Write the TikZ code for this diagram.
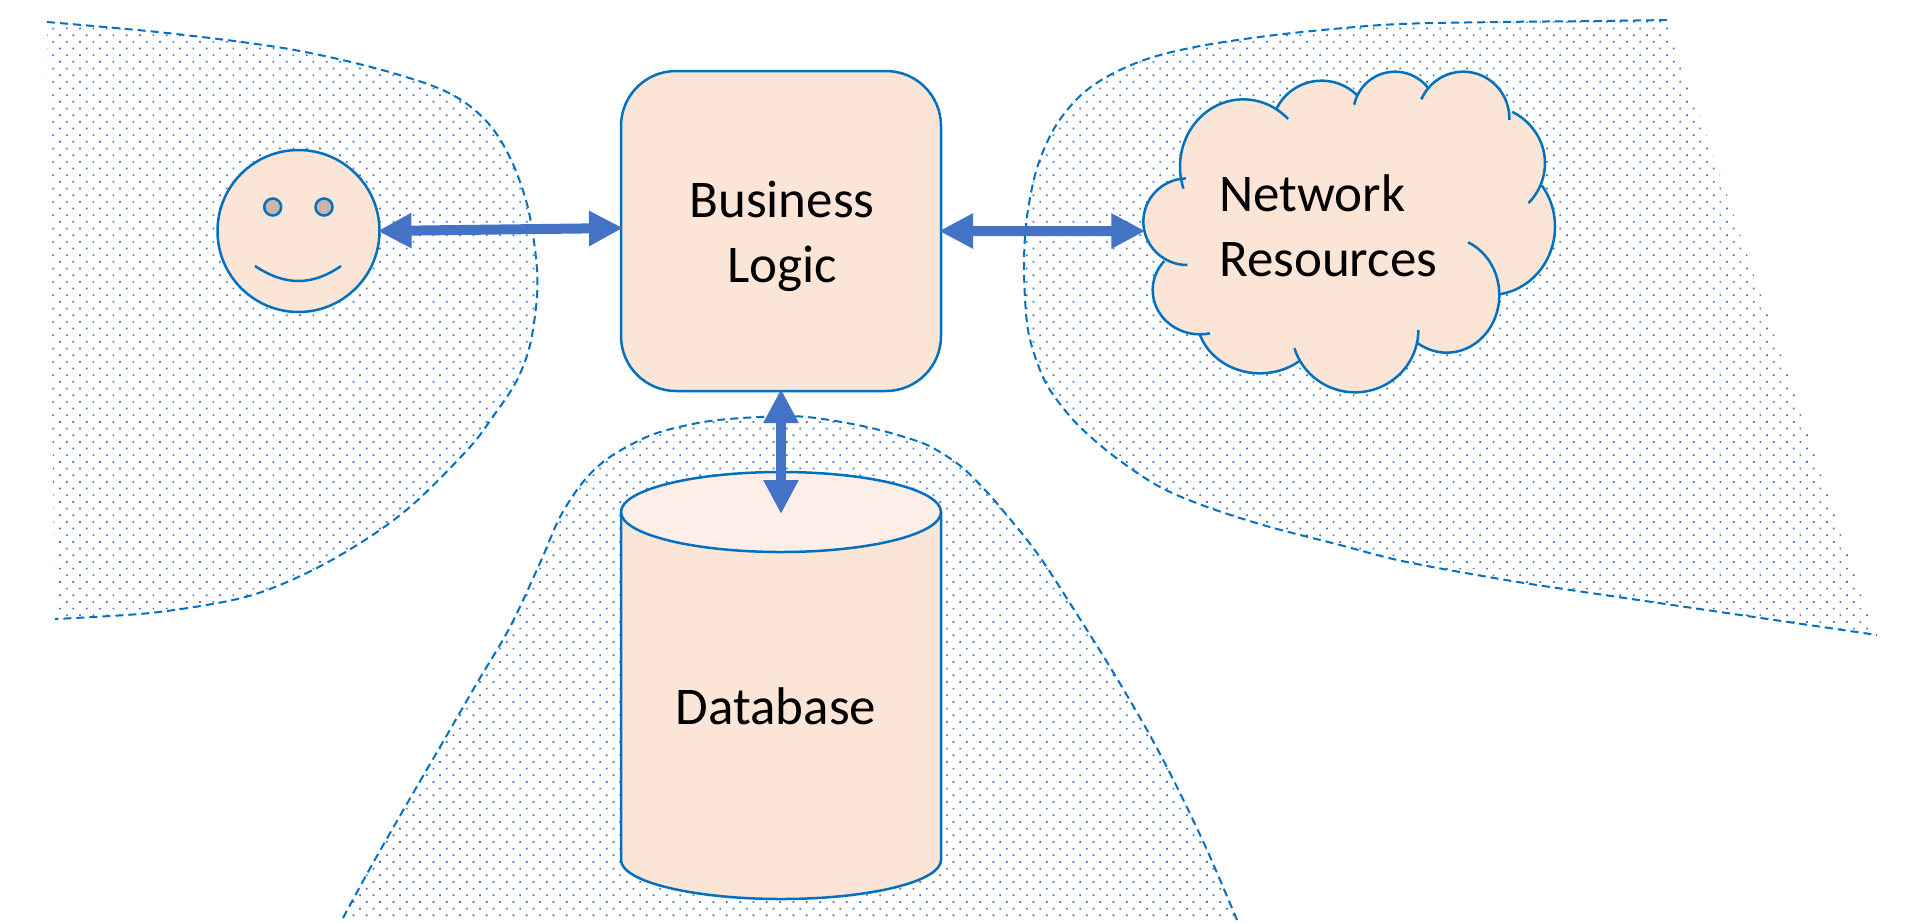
\documentclass[tikz,border=0pt]{standalone}
\usepackage{fontspec}
\setmainfont{Carlito}
\usetikzlibrary{arrows.meta,patterns.meta}
\definecolor{edgeblue}{HTML}{0070C0}
\definecolor{arrowblue}{HTML}{4472C4}
\definecolor{bodyfill}{HTML}{FBE5D6}
\definecolor{lidfill}{HTML}{FDEFE7}
\definecolor{eyefill}{HTML}{C9B5A8}
\tikzset{
    body/.style={draw=edgeblue, line width=2.5pt, fill=bodyfill, outer sep=0pt},
    zonefill/.style={pattern={Dots[distance=9.43pt, angle=45, radius=1.2pt]}, pattern color=arrowblue},
    zoneedge/.style={draw=edgeblue, line width=2pt, dash pattern=on 8pt off 5pt},
    link/.style={draw=arrowblue, line width=10pt, shorten <=-2pt, shorten >=-2pt, {Triangle[length=34pt,width=33pt]}-{Triangle[length=34pt,width=33pt]}},
    lobe/.style={draw=edgeblue, line width=2.5pt},
    label/.style={font=\fontsize{53}{65}\selectfont, text=black}
}
\newcommand{\leftzone}{plot[smooth, tension=0.55] coordinates {(47,22) (167,33) (283,48) (367,66) (433,86) (467,104) (493,129) (513,164) (528,208) (536,258) (537,296) (530,345) (516,382) (492,418) (470,447) (420,498) (380,530) (330,561) (280,585) (233,600) (150,613) (55,619)}}
\newcommand{\rightzone}{plot[smooth, tension=0.55] coordinates {(1667,20) (1600,21) (1500,22) (1400,24) (1333,29) (1267,36) (1200,46) (1150,58) (1110,75) (1080,96) (1055,127) (1037,168) (1027,217) (1024,268) (1028,330) (1042,375) (1057,400) (1080,427) (1115,457) (1160,487) (1210,508) (1270,527) (1340,545) (1402,561) (1500,579) (1584,592) (1877,635)}}
\newcommand{\lowzone}{plot[smooth, tension=0.55] coordinates {(343,918) (373,863) (412,795) (440,747) (477,683) (510,627) (540,563) (560,517) (583,482) (607,459) (640,440) (667,430) (710,421) (760,417) (807,417) (867,427) (917,441) (940,452) (963,468) (985,490) (1000,507) (1037,553) (1073,608) (1110,667) (1147,730) (1177,787) (1207,850) (1237,920)}}
\newcommand{\cloudlobes}{430/350/190/202/161/315, 665/240/150/148/204/315, 885/190/125/125/192/323, 1090/205/138/140/204/362, 1150/340/185/175/298/403, 1170/530/195/205/-37/81, 1040/735/158/173/-66/124, 765/840/190/187/0/163, 480/800/190/170/52/163, 300/720/142/133/78/221, 262/515/132/130/90/268}
\begin{document}
\begin{tikzpicture}[x=1pt, y=-1pt]
    \useasboundingbox (0,0) rectangle (1911,922);

    \fill[zonefill] \leftzone -- cycle;
    \fill[zonefill] \rightzone -- cycle;
    \fill[zonefill] \lowzone -- cycle;
    \draw[zoneedge] \leftzone;
    \draw[zoneedge] \rightzone;
    \draw[zoneedge] \lowzone;

    \node[body, circle, minimum size=162pt, inner sep=0pt] (face) at (298.5,231) {};
    \node[body, circle, minimum size=17pt, inner sep=0pt, fill=eyefill] (lefteye) at (272.7,207) {};
    \node[body, circle, minimum size=17pt, inner sep=0pt, fill=eyefill] (righteye) at (324,207) {};
    \draw[lobe] (255,266) .. controls (285,286) and (312,286) .. (341,266);

    \node[body, rectangle, rounded corners=55pt, minimum size=320pt, inner sep=0pt] (logic) at (781,231) {};
    \node[label, align=center] (logictext) at (782,236) {Business\\Logic};

    \draw[body] (621,512) -- (621,860) arc[start angle=180, end angle=0, x radius=160, y radius=39] -- (941,512);
    \draw[body, fill=lidfill] (781,512) ellipse[x radius=160, y radius=40];
    \coordinate (lid) at (781,512);
    \node[label] (database) at (776,706) {Database};

    \begin{scope}[shift={(1100,50)}, scale=1/3]
        \fill[bodyfill] (350,400) -- (560,250) -- (800,200) -- (1150,250) -- (1250,500) -- (1150,800) -- (800,900) -- (400,800) -- (250,600) -- cycle;
        \foreach \cx/\cy/\rx/\ry/\angA/\angB in \cloudlobes {
            \fill[bodyfill] (\cx,\cy) ellipse[x radius=\rx, y radius=\ry];
        }
        \foreach \cx/\cy/\rx/\ry/\angA/\angB in \cloudlobes {
            \draw[lobe] (\cx,\cy) ++({\angA}:{\rx} and {\ry}) arc[start angle=\angA, end angle=\angB, x radius=\rx, y radius=\ry];
        }
        \coordinate (cloudwest) at (130,543);
    \end{scope}
    \node[label, align=left, anchor=west, inner sep=0pt] (resources) at (1219,226) {Network\\Resources};

    \draw[link] (face.east) -- ([yshift=3pt]logic.west);
    \draw[link] (logic.east) -- (cloudwest);
    \draw[link] (logic.south) -- (lid);
\end{tikzpicture}
\end{document}
